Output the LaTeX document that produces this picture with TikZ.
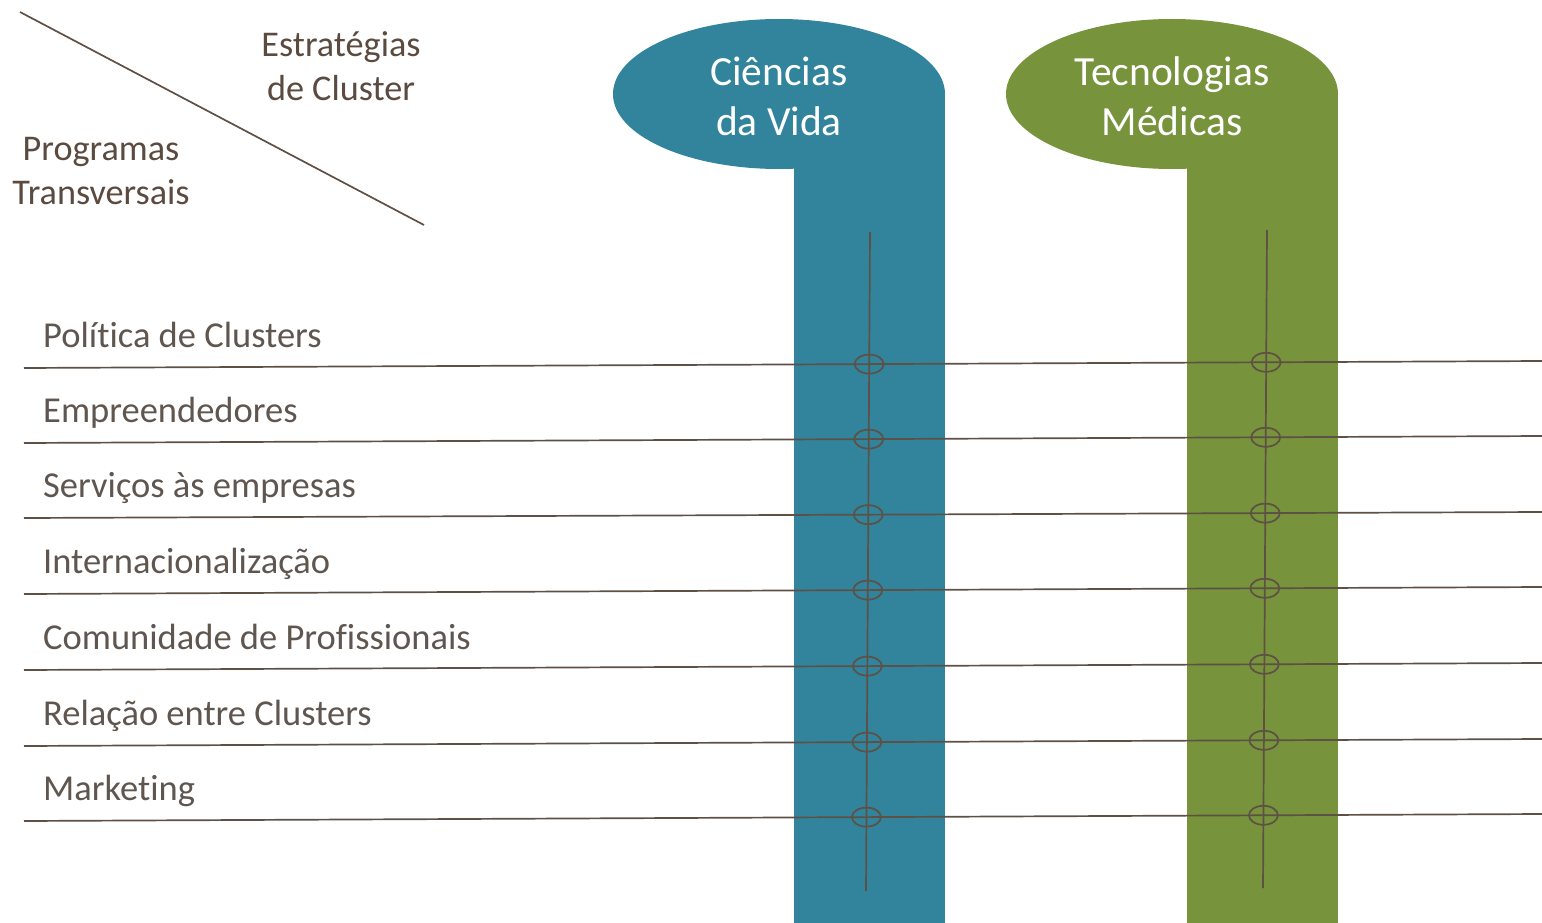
\documentclass[tikz,border=0pt]{standalone}
\usepackage{fontspec}
\setmainfont{Carlito}[Ligatures=NoCommon]
\definecolor{clBlue}{HTML}{31849B}
\definecolor{clGreen}{HTML}{77933C}
\definecolor{clText}{HTML}{5B4A3F}
\definecolor{clRow}{HTML}{5F5650}
\definecolor{clLine}{HTML}{5E5045}
\usetikzlibrary{positioning,shapes.geometric,intersections}

\begin{document}
\begin{tikzpicture}[x=1pt, y=-1pt,
  hdr/.style={font=\fontsize{36.2}{44}\selectfont, text=clText, align=center},
  head/.style={font=\fontsize{41.5}{50}\selectfont, text=white, align=center},
  prog/.style={font=\fontsize{36.5}{44}\selectfont, text=clRow, anchor=base west, inner sep=0pt},
  rule/.style={draw=clLine, line width=1.7pt},
  hit/.style={ellipse, draw=clLine, line width=1.7pt, minimum width=29pt,
    minimum height=19pt, inner sep=0pt}
]
  \useasboundingbox (0,0) rectangle (1542,923);
  % Cluster columns
  \fill[clBlue] (779,94) ellipse [x radius=166pt, y radius=75pt];
  \fill[clBlue] (794,94) rectangle (945,923);
  \fill[clGreen] (1172,94) ellipse [x radius=166pt, y radius=75pt];
  \fill[clGreen] (1187,94) rectangle (1338,923);
  \node[head] (cv) at (779,96) {Ciências\\da Vida};
  \node[head] (tm) at (1172,96) {Tecnologias\\Médicas};
  % Corner headers
  \coordinate (d1) at (20,12);
  \coordinate (d2) at (424,225);
  \draw[rule] (d1) -- (d2);
  \node[hdr] (est) at (341,66) {Estratégias\\de Cluster};
  \node[hdr] (prg) at (101,171) {Programas\\Transversais};
  % Column axes
  \coordinate (vt1) at (870,232);
  \coordinate (vb1) at (866,891);
  \coordinate (vt2) at (1267,230);
  \coordinate (vb2) at (1263,888);
  \draw[rule, name path=col1] (vt1) -- (vb1);
  \draw[rule, name path=col2] (vt2) -- (vb2);
  % Programme rows
  \foreach \i/\yl/\yr/\txt in {1/368/361/Política de Clusters,
      2/443/436/Empreendedores,
      3/518/512/Serviços às empresas,
      4/594/587/Internacionalização,
      5/670/663/Comunidade de Profissionais,
      6/746/739/Relação entre Clusters,
      7/821/814/Marketing} {
    \coordinate (l\i) at (24,\yl);
    \coordinate (r\i) at (1542,\yr);
    \draw[rule, name path=row] (l\i) -- (r\i);
    \node[prog] (p\i) at (43,\yl-21) {\txt};
    \foreach \c in {1,2} {
      \path[name intersections={of=row and col\c, by={x\c}}];
      \node[hit] (h\c\i) at (x\c) {};
    }
  }
\end{tikzpicture}
\end{document}
